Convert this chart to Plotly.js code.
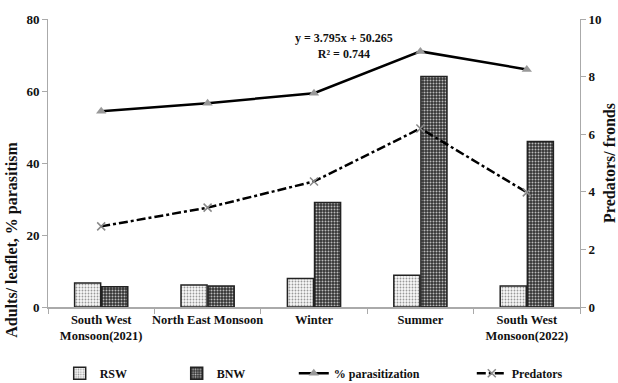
<!DOCTYPE html>
<html><head><meta charset="utf-8">
<script src="https://cdn.plot.ly/plotly-3.0.1.min.js"></script>
<style>body{margin:0;background:#fff}#c{width:618px;height:383px}</style>
</head><body><div id="c"></div>
<script>
const categories = ["South West<br>Monsoon(2021)", "North East Monsoon", "Winter", "Summer", "South West<br>Monsoon(2022)"];
const rsw = [6.7, 6.1, 7.9, 8.8, 5.8];
const bnw = [5.6, 5.8, 29, 64, 46];
const parasitization = [54.4, 56.6, 59.4, 71, 66];
const predators = [2.8, 3.45, 4.36, 6.2, 3.98];
const leftTicks = [0, 20, 40, 60, 80];
const rightTicks = [0, 2, 4, 6, 8, 10];
const leftTitle = "Adults/ leaflet, % parasitism";
const rightTitle = "Predators/ fronds";
const equation = "y = 3.795x + 50.265<br>R² = 0.744";

const F = "Liberation Serif, Times New Roman, serif";
const data = [
  {type:"bar", name:"RSW", x:categories, y:rsw, legend:"legend",
   marker:{color:"#f4f4f4", line:{color:"#222", width:1.5},
     pattern:{shape:".", fgcolor:"#999", bgcolor:"#f8f8f8", size:3, solidity:0.3}}},
  {type:"bar", name:"BNW", x:categories, y:bnw, legend:"legend",
   marker:{color:"#444", line:{color:"#222", width:1.5},
     pattern:{shape:".", fgcolor:"#bbb", bgcolor:"#333", size:3, solidity:0.35}}},
  {type:"scatter", mode:"lines+markers", name:"% parasitization", x:categories, y:parasitization, legend:"legend2",
   line:{color:"#000", width:2.5}, marker:{symbol:"triangle-up", size:9, color:"#999"}},
  {type:"scatter", mode:"lines+markers", name:"Predators", x:categories, y:predators, yaxis:"y2", legend:"legend2",
   line:{color:"#000", width:2.5, dash:"dashdot"}, marker:{symbol:"x-thin", size:8, line:{color:"#888", width:1.5}}}
];
const legFont = {family:F, size:12, color:"#111", weight:"bold"};
const layout = {
  width:618, height:383, margin:{l:48, r:38, t:19, b:76, autoexpand:false},
  paper_bgcolor:"#fff", plot_bgcolor:"#fff",
  font:{family:F, size:12, color:"#111"},
  barmode:"group", bargap:0.49, bargroupgap:0.04,
  showlegend:true,
  legend:{orientation:"h", x:0.022, xanchor:"left", y:-0.18, yanchor:"top",
    font:legFont, entrywidth:72, traceorder:"normal"},
  legend2:{orientation:"h", x:0.462, xanchor:"left", y:-0.18, yanchor:"top",
    font:legFont, entrywidth:133, traceorder:"normal"},
  xaxis:{type:"category", showline:true, linecolor:"#aaa", linewidth:1.5, ticks:"outside", tickson:"boundaries",
    tickcolor:"#aaa", ticklen:5, tickangle:0, automargin:false, tickfont:{family:F, size:12.5, weight:"bold"}, showgrid:false},
  yaxis:{range:[0,80], tickvals:leftTicks, showline:true, linecolor:"#aaa", linewidth:1, ticks:"outside",
    tickcolor:"#aaa", ticklen:5, showgrid:false, zeroline:false, automargin:false, tickfont:{family:F, size:13, weight:"bold"}},
  yaxis2:{range:[0,10], tickvals:rightTicks, overlaying:"y", side:"right", showline:true, linecolor:"#aaa", linewidth:1,
    ticks:"outside", tickcolor:"#aaa", ticklen:5, showgrid:false, zeroline:false, automargin:false, tickfont:{family:F, size:13, weight:"bold"},
    title:{text:rightTitle, font:{family:F, size:16, weight:"bold"}, standoff:6}},
  annotations:[
    {xref:"paper", yref:"paper", x:0.557, y:0.965, text:equation,
     showarrow:false, font:{family:F, size:12, weight:"bold", color:"#111"}, align:"center"},
    {xref:"paper", yref:"paper", x:-0.068, y:0.233, xanchor:"center", yanchor:"middle", textangle:-90,
     text:leftTitle, showarrow:false, font:{family:F, size:16, weight:"bold", color:"#111"}}
  ]
};
Plotly.newPlot("c", data, layout, {displayModeBar:false, staticPlot:true});
</script></body></html>
